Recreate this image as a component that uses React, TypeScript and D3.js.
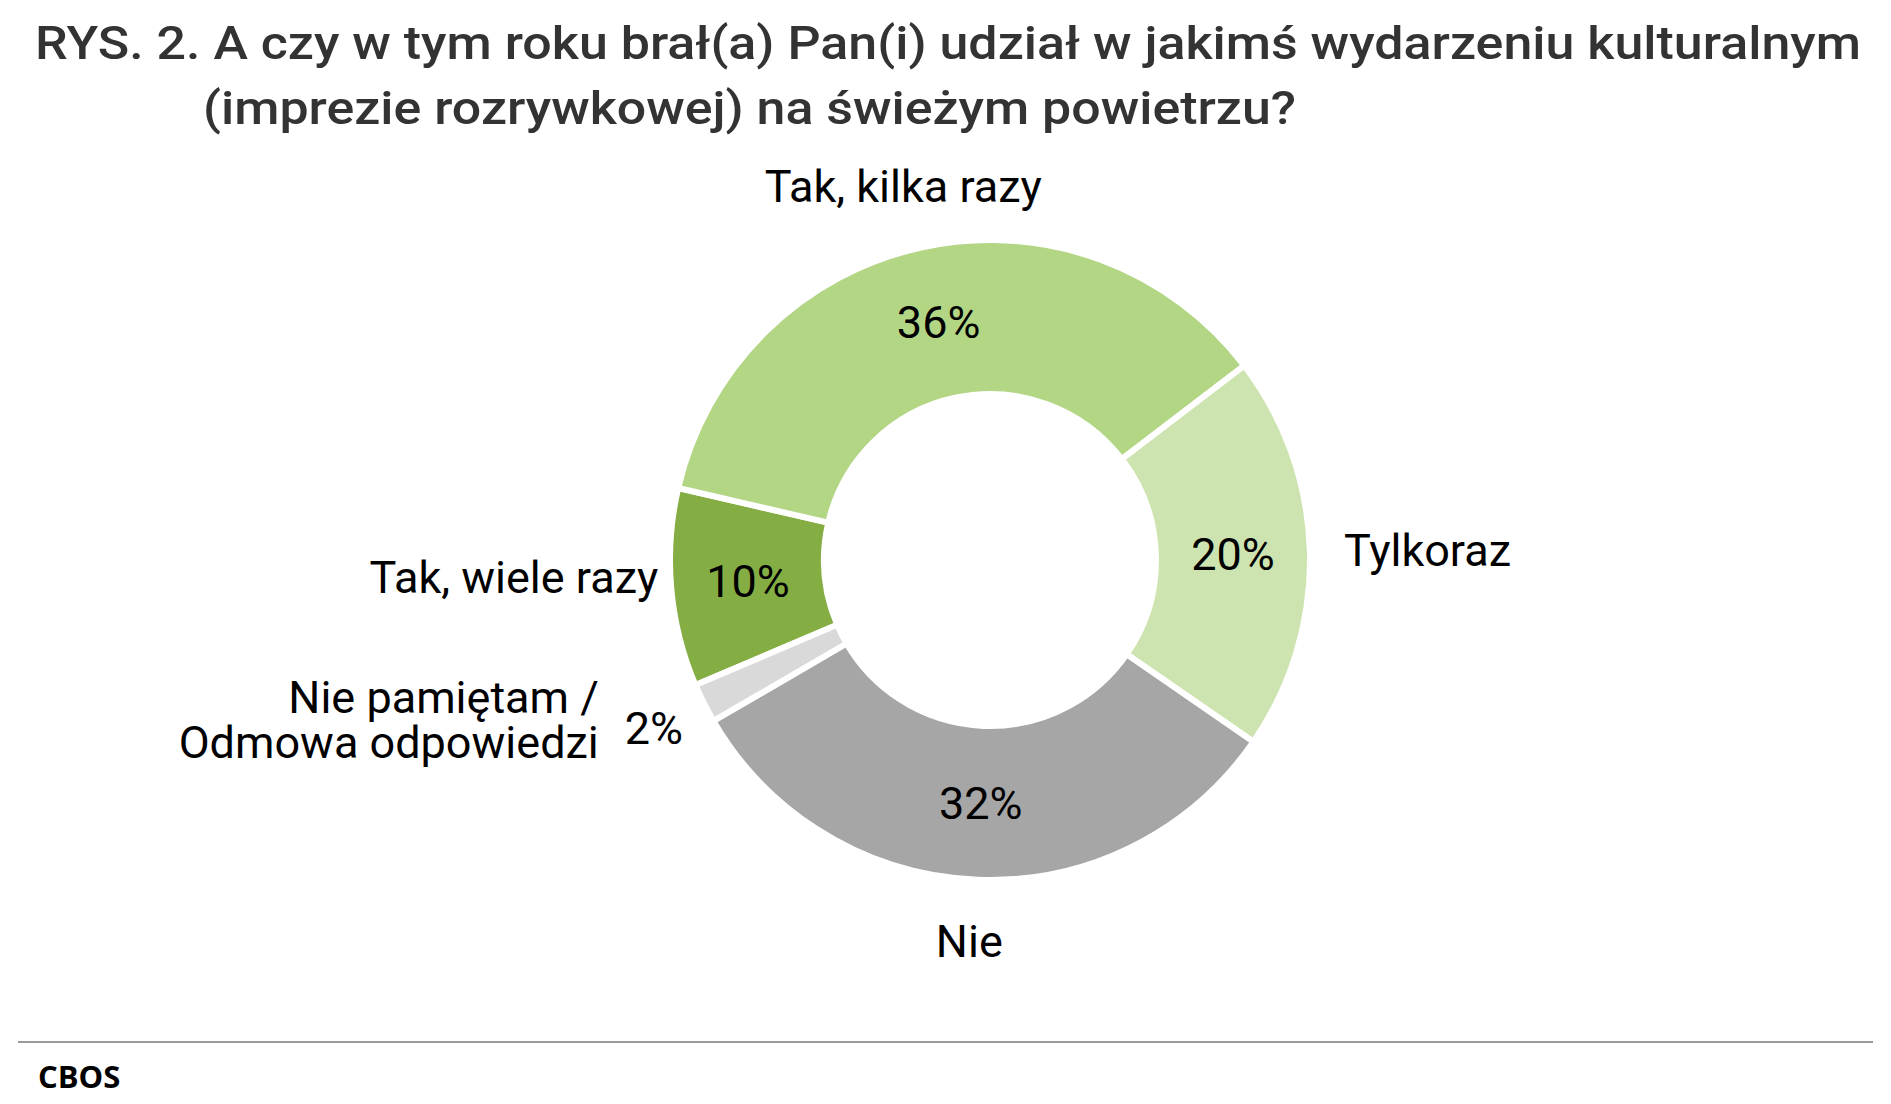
import * as d3 from 'd3';

// data, in the order the survey lists the answers (clockwise from the first slice)
const categories = [
  'Tak, wiele razy',
  'Tak, kilka razy',
  'Tylkoraz',
  'Nie',
  'Nie pamiętam / Odmowa odpowiedzi',
];
const values = [10, 36, 20, 32, 2];
const colors = ['#84ae43', '#b3d685', '#cee4b0', '#a6a6a6', '#d9d9d9'];
const titleLines = [
  'RYS. 2. A czy w tym roku brał(a) Pan(i) udział w jakimś wydarzeniu kulturalnym',
  '(imprezie rozrywkowej) na świeżym powietrzu?',
];
const sourceLabel = 'CBOS';

const W = 1891;
const H = 1104;
const cx = 990;
const cy = 560;
const outerR = 320;
const innerR = 166;
const firstSliceAngle = 247; // degrees, like Excel's "angle of first slice"
const font = 'Roboto, "Noto Sans", sans-serif';
const fs = 45;
const lh = 45;

const App = () => {
  const start = (firstSliceAngle * Math.PI) / 180;
  const pie = d3
    .pie<number>()
    .sort(null)
    .value((d) => d)
    .startAngle(start)
    .endAngle(start + 2 * Math.PI);
  const arcs = pie(values);

  const arc = d3.arc<d3.PieArcDatum<number>>().innerRadius(innerR).outerRadius(outerR);
  const pct = d3.format('.0f');

  const labels = arcs.map((a, i) => {
    const mid = (a.startAngle + a.endAngle) / 2;
    const s = Math.sin(mid);
    const c = -Math.cos(mid);
    const lines = categories[i].split(/(?<=\/) /);
    const small = a.value < 5;

    // value label: inside the ring, or just outside it for thin slices
    let vx, vy;
    if (small) {
      vx = cx + 376 * s;
      vy = cy + 376 * c;
    } else {
      const [x, y] = arc.centroid(a);
      vx = cx + x;
      vy = cy + y;
    }

    // category label outside the ring
    let lx, ly, anchor;
    if (small) {
      anchor = 'end';
      lx = vx - 55;
      ly = vy - 9;
    } else if (Math.abs(s) < 0.5) {
      anchor = 'middle';
      lx = cx + 382 * s - 6;
      ly = cy + 382 * c;
    } else {
      anchor = s > 0 ? 'start' : 'end';
      lx = cx + (s > 0 ? 354 : 333) * s;
      ly = vy - 4;
    }
    return { a, i, vx, vy, lx, ly, anchor, lines };
  });

  return (
    <svg
      width={W}
      height={H}
      viewBox={`0 0 ${W} ${H}`}
      style={{ position: 'absolute', left: 0, top: 0, background: '#fff', display: 'block' }}
    >
      <rect width={W} height={H} fill="#fff" />
      <g fontFamily={font} fontSize={46} fontWeight={500} fill="#333333">
        <text x={35} y={59} textLength={1826} lengthAdjust="spacingAndGlyphs">
          {titleLines[0]}
        </text>
        <text x={203} y={124} textLength={1093} lengthAdjust="spacingAndGlyphs">
          {titleLines[1]}
        </text>
      </g>

      <g transform={`translate(${cx},${cy})`}>
        {arcs.map((a, i) => (
          <path key={i} d={arc(a) ?? undefined} fill={colors[i]} stroke="#ffffff" strokeWidth={6} />
        ))}
      </g>

      {labels.map((l) => (
        <g key={l.i} fontFamily={font} fontSize={fs} fill="#000">
          <text x={l.vx} y={l.vy} dy="0.35em" textAnchor="middle">
            {pct(l.a.value)}%
          </text>
          <text textAnchor={l.anchor}>
            {l.lines.map((t, k) => (
              <tspan key={k} x={l.lx} y={l.ly + (k - (l.lines.length - 1) / 2) * lh} dy="0.35em">
                {t}
              </tspan>
            ))}
          </text>
        </g>
      ))}

      <line x1={18} x2={1873} y1={1042} y2={1042} stroke="#9a9a9a" strokeWidth={2} />
      <text x={38} y={1088} fontFamily='"Open Sans", sans-serif' fontWeight={700} fontSize={31} fill="#000">
        {sourceLabel}
      </text>
    </svg>
  );
};

export default App;
